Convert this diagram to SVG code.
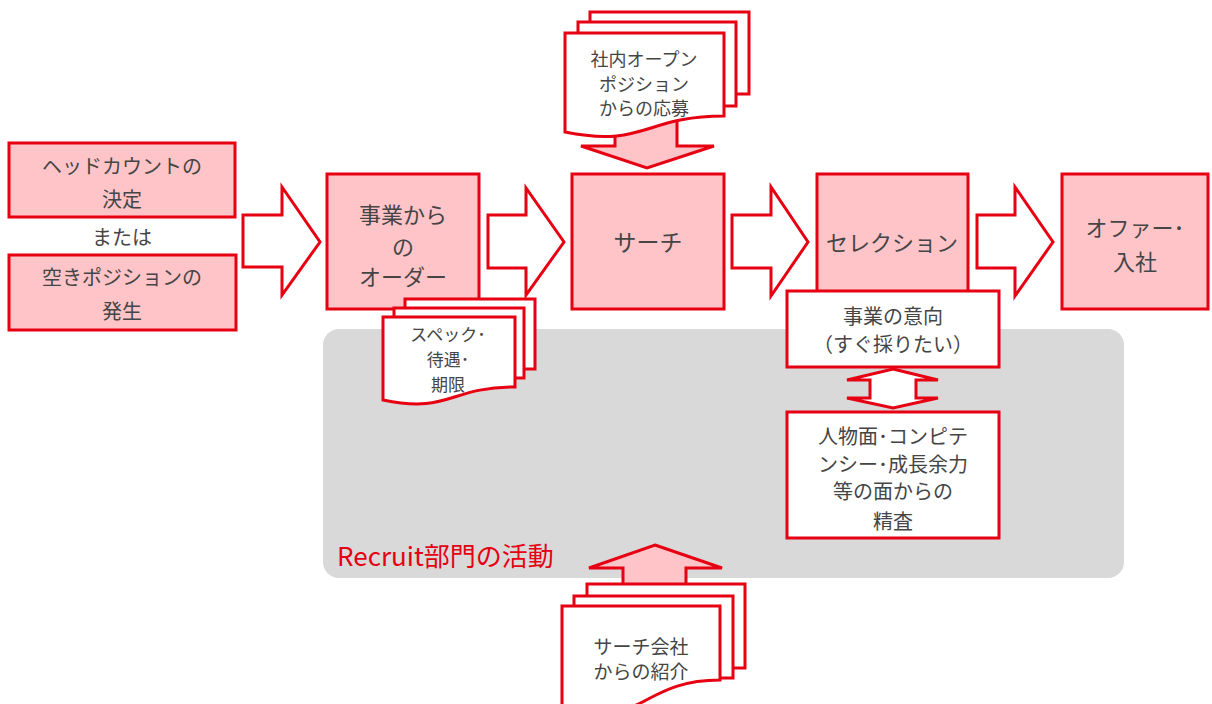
<svg xmlns="http://www.w3.org/2000/svg" width="1212" height="704" viewBox="0 0 1212 704">
<style>
.box{fill:#ffc4c8;stroke:#e60012;stroke-width:3}
.wbox{fill:#ffffff;stroke:#e60012;stroke-width:3}
.arr{fill:#ffffff;stroke:#e60012;stroke-width:3;stroke-linejoin:miter}
.parr{fill:#ffc4c8;stroke:#e60012;stroke-width:3}
.doc{fill:#ffffff;stroke:#e60012;stroke-width:3}
text{font-family:"Noto Sans CJK JP","Noto Sans",sans-serif;fill:#454545;text-anchor:middle}
.t22{font-size:22px}
.t23{font-size:23px}
.t20{font-size:20px}
.t19{font-size:19px}
.t18{font-size:18px}
.t17{font-size:17px}
.lbl{font-size:26px;fill:#e60012;text-anchor:start}
</style>
<rect width="1212" height="704" fill="#ffffff"/>
<g id="recruit-area">
<rect x="323" y="329" width="801" height="249" rx="16" ry="16" fill="#d9d9d9"/>
<text class="lbl" x="337" y="566">Recruit部門の活動</text>
</g>
<g id="connectors">
<polygon class="arr" points="243,215 282,215 282,187 320,242 282,295 282,267 243,267"/>
<polygon class="arr" points="488,215 526,215 526,188 564,242 526,295 526,268 488,268"/>
<polygon class="arr" points="732,215 771,215 771,187 808,242 771,296 771,268 732,268"/>
<polygon class="arr" points="977,215 1015,215 1015,187 1053,242 1015,296 1015,268 977,268"/>
<polygon class="arr" points="893,369 938,380 916,380 916,398 938,398 893,408 847,398 870,398 870,380 847,380"/>
<polygon class="parr" points="615,120 677,120 677,146 714,146 647,168 581,146 615,146"/>
<polygon class="parr" points="655,545 722,568 686,568 686,592 623,592 623,568 589,568"/>
</g>
<g id="headcount">
<rect class="box" x="9" y="143" width="226" height="74"/>
<text class="t20" x="122" y="174">ヘッドカウントの</text>
<text class="t20" x="122" y="207">決定</text>
</g>
<g id="or-label">
<text class="t20" x="122" y="245">または</text>
</g>
<g id="vacancy">
<rect class="box" x="9" y="255" width="227" height="75"/>
<text class="t20" x="122" y="285">空きポジションの</text>
<text class="t20" x="122" y="319">発生</text>
</g>
<g id="order">
<rect class="box" x="327" y="174" width="152" height="135"/>
<text class="t22" x="403" y="223">事業から</text>
<text class="t22" x="403" y="255">の</text>
<text class="t22" x="403" y="285">オーダー</text>
</g>
<g id="search">
<rect class="box" x="572" y="174" width="152" height="135"/>
<text class="t23" x="648" y="251">サーチ</text>
</g>
<g id="selection">
<rect class="box" x="817" y="174" width="151" height="135"/>
<text class="t22" x="892" y="251">セレクション</text>
</g>
<g id="offer">
<rect class="box" x="1062" y="174" width="146" height="135"/>
<text class="t22" x="1135" y="236">オファー･</text>
<text class="t22" x="1135" y="270">入社</text>
</g>
<g id="business-intent">
<rect class="wbox" x="787" y="291" width="212" height="76"/>
<text class="t20" x="893" y="324">事業の意向</text>
<text class="t20" x="893" y="352">（すぐ採りたい）</text>
</g>
<g id="screening">
<rect class="wbox" x="787" y="412" width="212" height="126"/>
<text class="t20" x="893" y="444">人物面･コンピテ</text>
<text class="t20" x="893" y="472">ンシー･成長余力</text>
<text class="t20" x="893" y="499">等の面からの</text>
<text class="t20" x="893" y="529">精査</text>
</g>
<g id="internal-doc">
<rect class="doc" x="590" y="12" width="159" height="82"/>
<rect class="doc" x="578" y="22" width="158" height="84"/>
<path class="doc" d="M565,33 H724 V116 C644.5,116 644.5,148 565,132 Z"/>
<text class="t18" x="644" y="66">社内オープン</text>
<text class="t18" x="644" y="91">ポジション</text>
<text class="t18" x="644" y="115">からの応募</text>
</g>
<g id="spec-doc">
<rect class="doc" x="405" y="299" width="130" height="70"/>
<rect class="doc" x="394" y="308" width="130" height="70"/>
<path class="doc" d="M383,317 H515 V387 C449,387 449,414 383,400 Z"/>
<text class="t17" x="448" y="341">スペック･</text>
<text class="t17" x="448" y="366">待遇･</text>
<text class="t17" x="448" y="391">期限</text>
</g>
<g id="agency-doc">
<rect class="doc" x="587" y="584" width="158" height="84"/>
<rect class="doc" x="574" y="596" width="159" height="82"/>
<path class="doc" d="M562,606 H720 V680 C641,680 641,730 562,712 Z"/>
<text class="t19" x="641" y="654">サーチ会社</text>
<text class="t19" x="641" y="679">からの紹介</text>
</g>
</svg>
